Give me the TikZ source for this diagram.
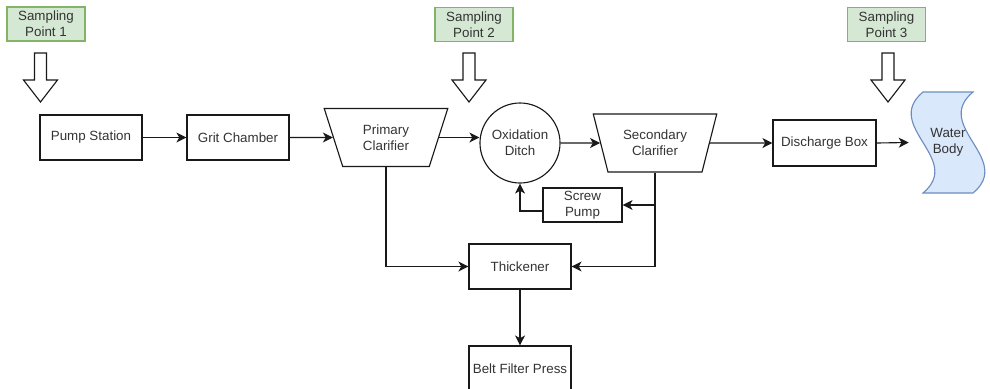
\documentclass[tikz,border=0pt]{standalone}
\usepackage{fontspec}
\setmainfont{Liberation Sans}
\usepackage{tikz}
\usetikzlibrary{positioning, arrows.meta, shapes.geometric}

\begin{document}
\begin{tikzpicture}[x=0.025cm, y=-0.025cm,
    font=\fontsize{9.5}{11.4}\selectfont,
    unit/.style={draw=linecolor, line width=0.8pt, text=textcolor, align=center,
        inner sep=1pt, minimum width=2.55cm, minimum height=1.125cm},
    tank/.style={unit, trapezium, trapezium angle=70, shape border rotate=180,
        trapezium stretches=true, minimum width=3.1cm, minimum height=1.45cm},
    sample/.style={draw=sampleline, fill=samplefill, line width=0.8pt, text=textcolor,
        align=center, inner sep=1pt, minimum width=1.95cm, minimum height=0.85cm},
    flow/.style={draw=linecolor, line width=0.8pt,
        -{Stealth[length=2.5mm, width=2.5mm, inset=0.7mm]}},
    hollow/.style={draw=linecolor, line width=0.8pt, fill=white, line join=miter}]

    % Define colors
    \definecolor{linecolor}{RGB}{25, 25, 25}
    \definecolor{textcolor}{RGB}{51, 51, 51}
    \definecolor{samplefill}{RGB}{213, 232, 212}
    \definecolor{sampleline}{RGB}{130, 179, 102}
    \definecolor{waterfill}{RGB}{218, 232, 252}
    \definecolor{waterline}{RGB}{108, 142, 191}

    \useasboundingbox (0, 0) rectangle (990, 388);

    % Sampling points
    \node[sample] (samp1) at (46, 24) {Sampling\\Point 1};
    \node[sample] (samp2) at (474, 24.5) {Sampling\\Point 2};
    \node[sample] (samp3) at (886.5, 24.5) {Sampling\\Point 3};

    % Hollow arrows below the sampling points
    \foreach \ax in {40.5, 469, 888} {
        \draw[hollow] ({\ax-6}, 53) -- ({\ax+6}, 53) -- ({\ax+6}, 80) -- ({\ax+17}, 80)
            -- (\ax, 102) -- ({\ax-17}, 80) -- ({\ax-6}, 80) -- cycle;
    }

    % Main treatment line
    \node[unit] (pump) at (91, 137.5) {Pump Station};
    \node[unit] (grit) at (238, 137.5) {Grit Chamber};
    \node[tank] (primary) at (386, 137.5) {Primary\\Clarifier};
    \node[unit, circle, minimum size=2cm] (oxid) at (520, 143) {Oxidation\\Ditch};
    \node[tank] (second) at (655, 143) {Secondary\\Clarifier};
    \node[unit, minimum width=2.575cm, minimum height=1.15cm] (disch) at (824.5, 143) {Discharge Box};

    % Receiving water
    \draw[fill=waterfill, draw=waterline, line width=0.8pt]
        (923, 92) .. controls (882, 126) and (964, 159) .. (923, 193) -- (973, 193)
        .. controls (1014, 159) and (932, 126) .. (973, 92) -- cycle;
    \node[text=textcolor, align=center, minimum width=1.95cm, minimum height=2.525cm]
        (water) at (948, 142.5) {Water\\Body};

    % Sludge line
    \node[unit, minimum width=1.975cm, minimum height=0.85cm] (screw) at (582.5, 205) {Screw\\Pump};
    \node[unit] (thick) at (520, 266.5) {Thickener};
    \node[unit] (belt) at (520, 368.5) {Belt Filter Press};

    % Connections
    \draw[flow] (pump) -- (grit);
    \draw[flow] (grit.east) -- (primary.west);
    \draw[flow] (primary.east) -- (primary.east -| oxid.west);
    \draw[flow] (oxid) -- (second);
    \draw[flow] (second.east) -- (disch.west);
    \draw[flow] (disch.east) -- (water.west);

    \coordinate (split) at (second.south |- screw.east);
    \draw[flow] (second.south) |- (thick.east);
    \draw[flow] (split) -- (screw.east);
    \draw[flow] ([yshift=-0.15cm]screw.west) -| (oxid.south);
    \draw[flow] (primary.south) |- (thick.west);
    \draw[flow] (thick) -- (belt);

\end{tikzpicture}
\end{document}
